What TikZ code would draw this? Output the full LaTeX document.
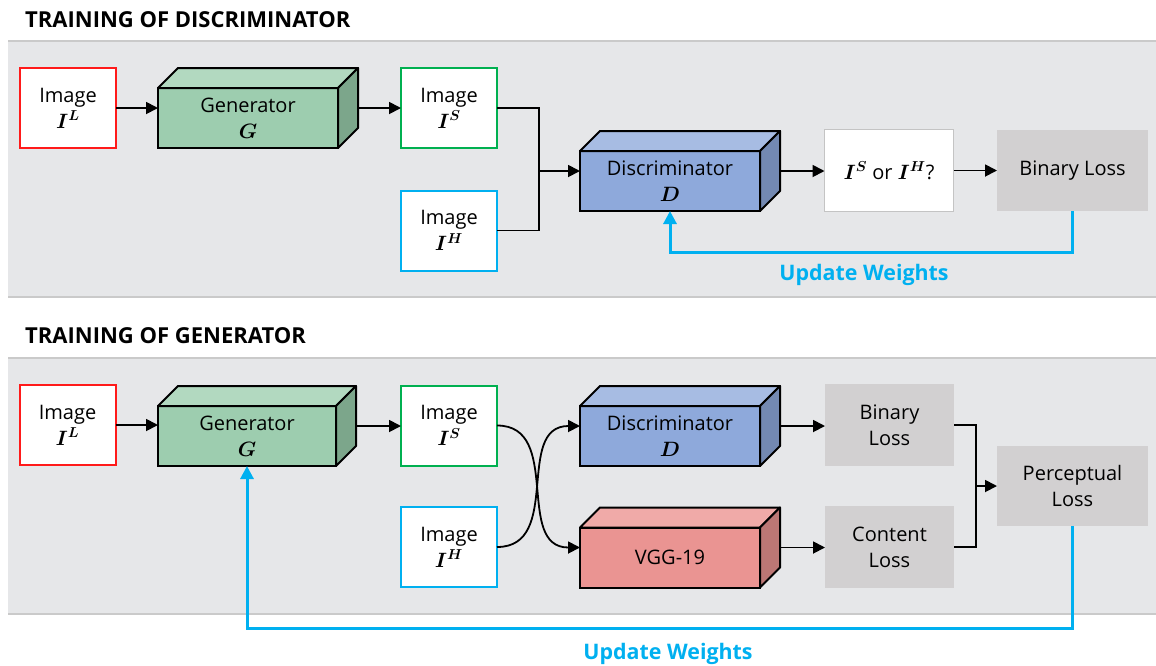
\documentclass[tikz,border=0pt]{standalone}
\usepackage{amsmath}
\usepackage{bm}
\usepackage{fontspec}
\setmainfont{Open Sans}
\usetikzlibrary{arrows.meta,calc}

\definecolor{panelbg}{HTML}{E6E7E9}
\definecolor{panelrule}{HTML}{CACACA}
\definecolor{lowres}{HTML}{FF1A1A}
\definecolor{superres}{HTML}{00B050}
\definecolor{highres}{HTML}{00B0F0}
\definecolor{feedback}{HTML}{00B0F0}
\definecolor{lossfill}{HTML}{D2D0D1}
\definecolor{qrule}{HTML}{C4C4C4}
\definecolor{genF}{HTML}{9DCDAF}
\definecolor{genT}{HTML}{B2D9C0}
\definecolor{genS}{HTML}{7CA68B}
\definecolor{disF}{HTML}{8EA9DB}
\definecolor{disT}{HTML}{A7BCE3}
\definecolor{disS}{HTML}{7389B2}
\definecolor{vggF}{HTML}{EA9492}
\definecolor{vggT}{HTML}{F0AAA8}
\definecolor{vggS}{HTML}{BC7775}

\newcommand{\mv}[2]{$\bm{#1}^{\bm{#2}}$}

\tikzset{
  txt/.style={font=\fontsize{20}{26}\selectfont},
  imagebox/.style={draw, line width=2pt, fill=white, minimum width=96pt,
    minimum height=80pt, inner sep=0pt, outer sep=0pt, align=center, txt},
  cubefront/.style={draw, line width=2pt, minimum width=180pt,
    minimum height=60pt, inner sep=0pt, outer sep=0pt, align=center, txt},
  cubeedge/.style={draw, line width=2pt, line join=round},
  lossbox/.style={fill=lossfill, minimum width=129pt, minimum height=82pt,
    inner sep=0pt, outer sep=0pt, align=center, txt},
  flow/.style={line width=1.8pt, -{Triangle[length=12pt,width=12pt]}},
  joint/.style={line width=1.8pt},
  update/.style={draw=feedback, line width=3pt,
    -{Triangle[length=13pt,width=13pt]}},
  heading/.style={anchor=west, inner sep=0pt,
    font=\fontsize{22}{26}\selectfont\bfseries},
  updatelabel/.style={anchor=base, inner sep=0pt, text=feedback,
    font=\fontsize{21.4}{26}\selectfont\bfseries},
}

% #1 extra options, #2 name, #3 centre of front face, #4 colour prefix, #5 text
\newcommand{\cuboid}[5][]{%
  \node[cubefront, fill=#4F, #1] (#2) at (#3) {#5};
  \filldraw[cubeedge, fill=#4T] (#2.north west) -- ++(20,-20)
    -- ($(#2.north east)+(20,-20)$) -- (#2.north east) -- cycle;
  \filldraw[cubeedge, fill=#4S] (#2.north east) -- ++(20,-20)
    -- ($(#2.south east)+(20,-20)$) -- (#2.south east) -- cycle;
  \coordinate (#2-in) at ($(#2.west)+(0,-10)$);
  \coordinate (#2-out) at ($(#2.east)+(20,-10)$);
}

\begin{document}
\begin{tikzpicture}[x=1pt, y=-1pt]
\useasboundingbox[fill=white] (0,0) rectangle (1156,665);

% panels
\fill[panelbg] (8,41) rectangle (1156,297);
\draw[panelrule, line width=1.5pt] (8,41) -- (1156,41) (8,297) -- (1156,297);
\fill[panelbg] (8,358) rectangle (1156,614);
\draw[panelrule, line width=1.5pt] (8,358) -- (1156,358) (8,614) -- (1156,614);

\node[heading] (h1) at (25,20) {TRAINING OF DISCRIMINATOR};
\node[heading] (h2) at (25,336) {TRAINING OF GENERATOR};

% ---------- discriminator training ----------
\node[imagebox, draw=lowres] (IL) at (68,108) {Image\\\mv{I}{L}};
\cuboid{G}{248,118}{gen}{Generator\\$\bm{G}$}
\node[imagebox, draw=superres] (IS) at (449,108) {Image\\\mv{I}{S}};
\node[imagebox, draw=highres] (IH) at (449,230.5) {Image\\\mv{I}{H}};
\cuboid{D}{670,181}{dis}{Discriminator\\$\bm{D}$}
\node[imagebox, draw=qrule, line width=1.5pt, minimum width=129pt,
  minimum height=82pt] (Q) at (889,170.5) {\mv{I}{S} or \mv{I}{H}?};
\node[lossbox, minimum width=151pt, minimum height=81pt] (BL) at (1072.5,170.5) {Binary Loss};

\coordinate (m1) at (539,171);
\draw[flow] (IL.east) -- (G-in);
\draw[flow] (G-out) -- (G-out -| IS.west);
\draw[joint] (IS.east) -| (m1);
\draw[joint] (IH.east) -| (m1);
\draw[flow] (m1) -- (D-in);
\draw[flow] (D-out) -- (D-out -| Q.west);
\draw[flow] (Q.east) -- (BL.west);
\draw[update] (BL.south) -- ++(0,41) -| (D.south);
\node[updatelabel] (u1) at (864,280) {Update Weights};

% ---------- generator training ----------
\node[imagebox, draw=lowres] (IL2) at (67.5,425) {Image\\\mv{I}{L}};
\cuboid[minimum width=178pt]{G2}{247,436}{gen}{Generator\\$\bm{G}$}
\node[imagebox, draw=superres] (IS2) at (449,425.5) {Image\\\mv{I}{S}};
\node[imagebox, draw=highres] (IH2) at (449,547) {Image\\\mv{I}{H}};
\cuboid{D2}{670,436}{dis}{Discriminator\\$\bm{D}$}
\cuboid{V}{670,557.5}{vgg}{VGG-19}
\node[lossbox] (BL2) at (889.5,425) {Binary\\Loss};
\node[lossbox] (CL) at (889.5,547) {Content\\Loss};
\node[lossbox, minimum width=151pt, minimum height=80pt] (PL) at (1072.5,486) {Perceptual\\Loss};

\coordinate (m2) at (976,486);
\draw[flow] (IL2.east) -- (IL2.east -| G2.west);
\draw[flow] (G2-out) -- (G2-out -| IS2.west);
\draw[flow] (IS2.east) .. controls +(66,0) and +(-66,0) .. (V-in);
\draw[flow] (IH2.east) .. controls +(66,0) and +(-66,0) .. (D2-in);
\draw[flow] (D2-out) -- (D2-out -| BL2.west);
\draw[flow] (V-out) -- (V-out -| CL.west);
\draw[joint] (BL2.east) -| (m2);
\draw[joint] (CL.east) -| (m2);
\draw[flow] (m2) -- (PL.west);
\draw[update] (PL.south) -- ++(0,102) -| (G2.south);
\node[updatelabel] (u2) at (668,659) {Update Weights};
\end{tikzpicture}
\end{document}
